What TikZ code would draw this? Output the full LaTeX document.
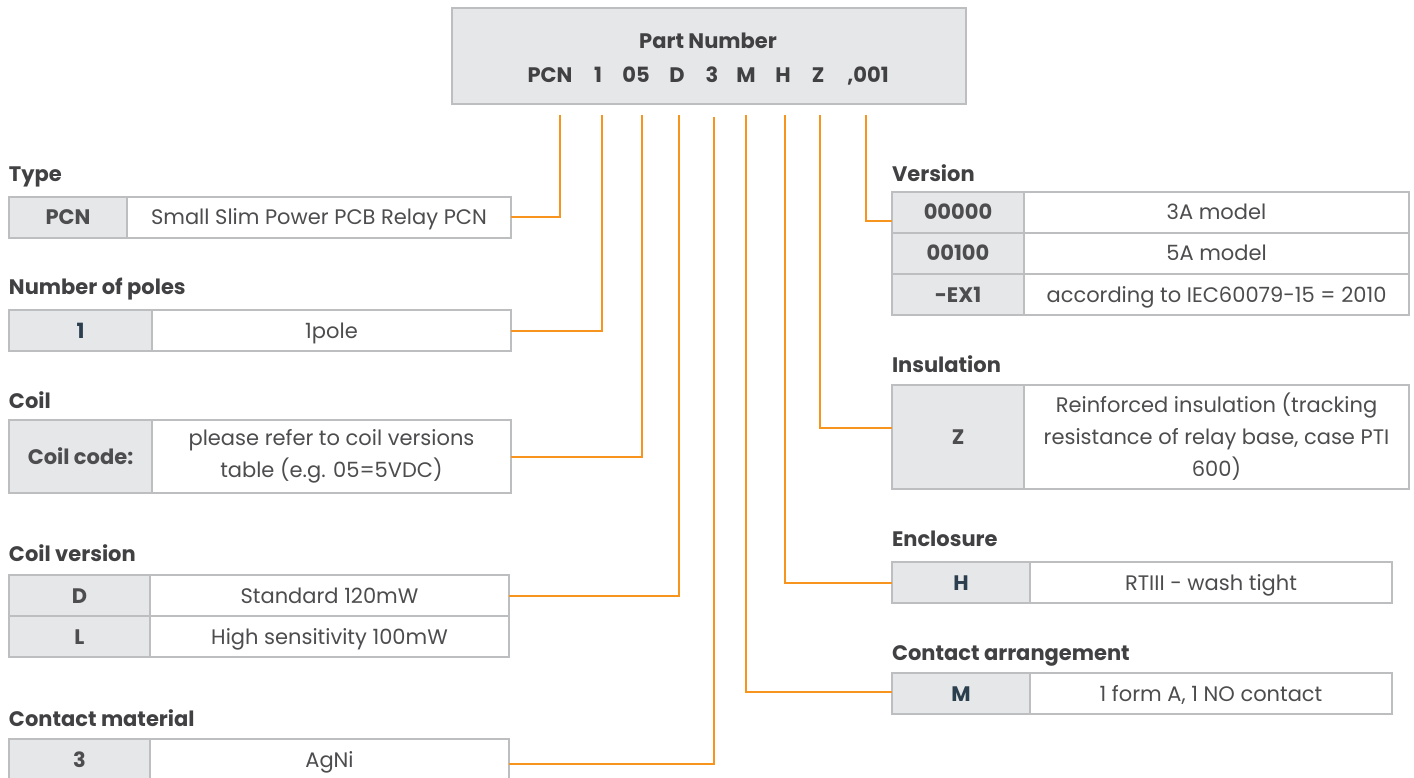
\documentclass[tikz,border=0pt]{standalone}
\usepackage{fontspec}
\setmainfont{Poppins}
\definecolor{orng}{HTML}{F7941D}
\definecolor{keyfill}{HTML}{E6E7E8}
\definecolor{bord}{HTML}{BCBEC0}
\definecolor{txt}{HTML}{4D4D4F}
\definecolor{ttlc}{HTML}{414042}
\definecolor{keyblue}{HTML}{2B3F4E}
\newcommand{\fs}{\fontsize{21}{32}\selectfont}
\begin{document}
\begin{tikzpicture}[x=1pt,y=-1pt,
  every node/.style={inner sep=0pt, outer sep=0pt, text=txt, font=\fs, text height=15pt, text depth=0pt},
  kcell/.style={draw=bord, line width=1.5pt, fill=keyfill, anchor=north west, font=\fs\bfseries},
  vcell/.style={draw=bord, line width=1.5pt, fill=white, anchor=north west, align=center, font=\fs},
  mcell/.style={vcell, text height=, text depth=},
  ttl/.style={anchor=west, font=\fs\bfseries, text=ttlc},
  code/.style={font=\fs\bfseries, text=ttlc},
  conn/.style={draw=orng, line width=2pt}]
\useasboundingbox (0,0) rectangle (1414,778);
% top part number box
\node[draw=bord, line width=1.5pt, fill=keyfill, anchor=north west, minimum width=514, minimum height=96, text height=0pt] (pn) at (452,8) {};
\node[code] (pnt) at (708,41) {Part Number};
\node[code] (p1) at (550,75) {PCN};
\node[code] (p2) at (598,75) {1};
\node[code] (p3) at (636,75) {05};
\node[code] (p4) at (677,75) {D};
\node[code] (p5) at (712,75) {3};
\node[code] (p6) at (746,75) {M};
\node[code] (p7) at (783,75) {H};
\node[code] (p8) at (818,75) {Z};
\node[code] (p9) at (868,75) {,001};
% connector tops
\coordinate (t1) at (560,115);
\coordinate (t2) at (602,115);
\coordinate (t3) at (642,115);
\coordinate (t4) at (679,115);
\coordinate (t5) at (714,117);
\coordinate (t6) at (746,115);
\coordinate (t7) at (785,115);
\coordinate (t8) at (820,115);
\coordinate (t9) at (866,115);
% Type
\node[ttl] (lt) at (9,174) {Type};
\node[kcell, minimum width=118, minimum height=41] (tk) at (9,197) {PCN};
\node[vcell, minimum width=384, minimum height=41] (tv) at (127,197) {Small Slim Power PCB Relay PCN};
% Number of poles
\node[ttl] (lp) at (9,287) {Number of poles};
\node[kcell, minimum width=143, minimum height=41, text=keyblue] (pk) at (9,310) {1};
\node[vcell, minimum width=359, minimum height=41] (pv) at (152,310) {1pole};
% Coil
\node[ttl] (lc) at (9,401) {Coil};
\node[kcell, minimum width=143, minimum height=73] (ck) at (9,420) {Coil code:};
\node[mcell, minimum width=359, minimum height=73] (cv) at (152,420) {please refer to coil versions\\table (e.g. 05=5VDC)};
% Coil version
\node[ttl] (lcv) at (9,554) {Coil version};
\node[kcell, minimum width=141, minimum height=41] (cvk1) at (9,575) {D};
\node[vcell, minimum width=359, minimum height=41] (cvv1) at (150,575) {Standard 120mW};
\node[kcell, minimum width=141, minimum height=41] (cvk2) at (9,616) {L};
\node[vcell, minimum width=359, minimum height=41] (cvv2) at (150,616) {High sensitivity 100mW};
% Contact material
\node[ttl] (lcm) at (9,719) {Contact material};
\node[kcell, minimum width=141, minimum height=41] (cmk) at (9,739) {3};
\node[vcell, minimum width=359, minimum height=41] (cmv) at (150,739) {AgNi};
% Version
\node[ttl] (lv) at (892,174) {Version};
\node[kcell, minimum width=132, minimum height=41] (vk1) at (892,192) {00000};
\node[vcell, minimum width=385, minimum height=41] (vv1) at (1024,192) {3A model};
\node[kcell, minimum width=132, minimum height=41] (vk2) at (892,233) {00100};
\node[vcell, minimum width=385, minimum height=41] (vv2) at (1024,233) {5A model};
\node[kcell, minimum width=132, minimum height=41] (vk3) at (892,274) {-EX1};
\node[vcell, minimum width=385, minimum height=41] (vv3) at (1024,274) {according to IEC60079-15 = 2010};
% Insulation
\node[ttl] (li) at (892,365) {Insulation};
\node[kcell, minimum width=132, minimum height=104] (ik) at (892,385) {Z};
\node[mcell, minimum width=385, minimum height=104] (iv) at (1024,385) {Reinforced insulation (tracking\\resistance of relay base, case PTI\\600)};
% Enclosure
\node[ttl] (le) at (892,539) {Enclosure};
\node[kcell, minimum width=138, minimum height=41, text=keyblue] (ek) at (892,562) {H};
\node[vcell, minimum width=362, minimum height=41] (ev) at (1030,562) {RTIII - wash tight};
% Contact arrangement
\node[ttl] (la) at (892,653) {Contact arrangement};
\node[kcell, minimum width=138, minimum height=41, text=keyblue] (ak) at (892,673) {M};
\node[vcell, minimum width=362, minimum height=41] (av) at (1030,673) {1 form A, 1 NO contact};
% connectors
\draw[conn] (t1) |- (tv.east);
\draw[conn] (t2) |- (pv.east);
\draw[conn] (t3) |- (cv.east);
\draw[conn] (t4) |- (cvv1.east);
\draw[conn] (t5) |- ([yshift=-4pt]cmv.east);
\draw[conn] (t6) |- ([yshift=2pt]ak.west);
\draw[conn] (t7) |- (ek.west);
\draw[conn] (t8) |- ([yshift=9pt]ik.west);
\draw[conn] (t9) |- ([yshift=-9pt]vk1.west);
\end{tikzpicture}
\end{document}
